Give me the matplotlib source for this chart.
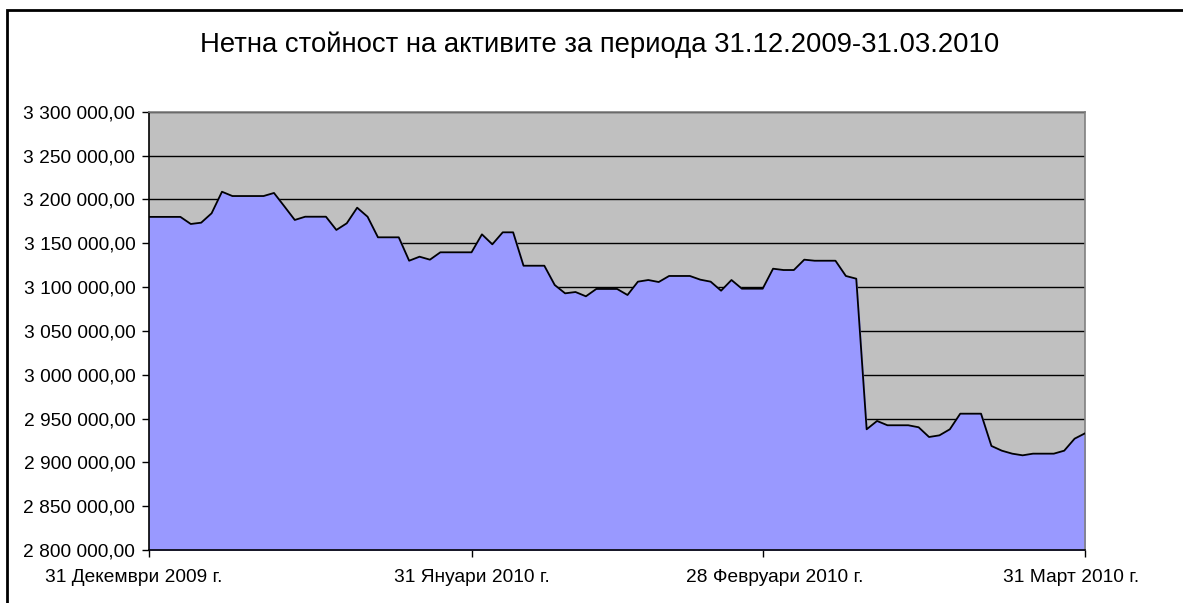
import numpy as np
import pandas as pd
import matplotlib
matplotlib.use('Agg')
import matplotlib.pyplot as plt
import matplotlib.transforms as mtransforms
from matplotlib.patches import Rectangle

plt.rcParams['font.family'] = ['Liberation Sans', 'DejaVu Sans']

title = 'Нетна стойност на активите за периода 31.12.2009-31.03.2010'
dates = pd.date_range('2009-12-31', '2010-03-31', freq='D')
nav = [
    3180000, 3180000, 3180000, 3180000, 3171900, 3173400, 3184100, 3208700,
    3203800, 3203800, 3203800, 3203800, 3207300, 3192000, 3176500, 3180200,
    3180200, 3180200, 3165100, 3172700, 3190500, 3180200, 3156700, 3156700,
    3156700, 3130000, 3134600, 3131200, 3139600, 3139600, 3139600, 3139600,
    3160100, 3148700, 3162400, 3162400, 3124300, 3124300, 3124300, 3102300,
    3092800, 3094300, 3089400, 3097800, 3097800, 3097800, 3090900, 3106100,
    3108000, 3105700, 3112600, 3112600, 3112600, 3108400, 3106100, 3095800,
    3108000, 3098100, 3098100, 3098100, 3120900, 3119400, 3119400, 3131200,
    3130000, 3130000, 3130000, 3112600, 3109500, 2937700, 2947200, 2942300,
    2942300, 2942300, 2940000, 2928900, 2930800, 2937700, 2955500, 2955500,
    2955500, 2918700, 2913300, 2909900, 2908000, 2909900, 2909900, 2909900,
    2913300, 2927000, 2933100,
]
tick_dates = pd.to_datetime(['2009-12-31', '2010-01-31', '2010-02-28', '2010-03-31'])
tick_labels = ['31 Декември 2009 г.', '31 Януари 2010 г.', '28 Февруари 2010 г.', '31 Март 2010 г.']
y_ticks = np.arange(2800000, 3300001, 50000)

fig = plt.figure(figsize=(11.83, 6.03), dpi=100)
ax = fig.add_axes([149.2 / 1183, 1 - 550 / 603, (1085 - 149.2) / 1183, (550 - 111.7) / 603])

ax.set_facecolor('#C0C0C0')
ax.fill_between(dates, nav, 2800000, color='#9999FF', zorder=2)
ax.plot(dates, nav, color='black', lw=1.3, zorder=3)

ax.set_ylim(2800000, 3300000)
ax.set_xlim(dates[0], dates[-1])
ax.set_yticks(y_ticks)
ax.set_yticklabels([f'{v:,.2f}'.replace(',', ' ').replace('.', ',') for v in y_ticks])
ax.set_xticks(tick_dates)
ax.set_xticklabels(tick_labels)
ax.grid(axis='y', color='black', lw=1, zorder=1)
ax.set_axisbelow(True)

ax.tick_params(axis='both', labelsize=13.8, colors='black', length=5, width=1, direction='out')
ax.tick_params(axis='x', pad=9)
ax.tick_params(axis='y', pad=5)
for side in ['top', 'right']:
    ax.spines[side].set_color('#808080')
    ax.spines[side].set_linewidth(1.2)
for side in ['left', 'bottom']:
    ax.spines[side].set_linewidth(1.2)

# excel places the date labels a bit off the tick marks
for lbl, dx in zip(ax.get_xticklabels(), [-16, 0, 12, -14]):
    lbl.set_transform(lbl.get_transform() + mtransforms.ScaledTranslation(dx / 100, 0, fig.dpi_scale_trans))

fig.text(600 / 1183, 1 - 45 / 603, title, ha='center', va='center', fontsize=19.8)

# outer chart frame (left and top edges visible)
fig.patches.append(Rectangle((7 / 1183, -0.1), 1.2, 1 - 10 / 603 + 0.1,
                             transform=fig.transFigure, fill=False,
                             edgecolor='black', lw=2))

fig.savefig('out.png', dpi=100)
